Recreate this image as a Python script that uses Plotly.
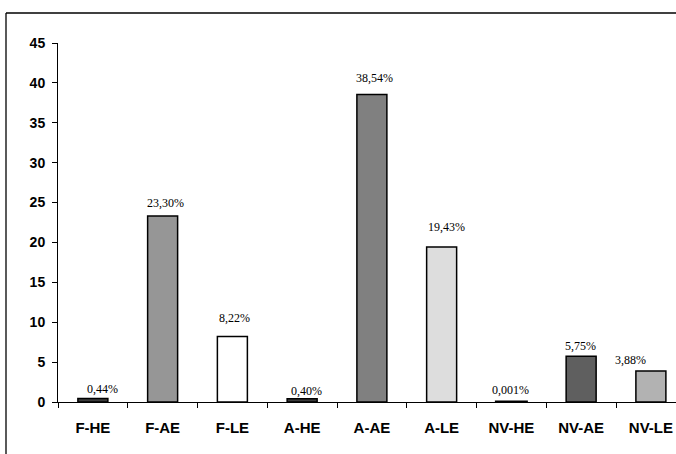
import plotly.graph_objects as go

# Category labels and values (percent)
categories = ["F-HE", "F-AE", "F-LE", "A-HE", "A-AE", "A-LE", "NV-HE", "NV-AE", "NV-LE"]
values = [0.44, 23.30, 8.22, 0.40, 38.54, 19.43, 0.001, 5.75, 3.88]
value_labels = ["0,44%", "23,30%", "8,22%", "0,40%", "38,54%", "19,43%", "0,001%", "5,75%", "3,88%"]
y_ticks = [0, 5, 10, 15, 20, 25, 30, 35, 40, 45]

# Styling per bar
bar_colors = ["#3c3c3c", "#969696", "#ffffff", "#3c3c3c", "#808080",
              "#dddddd", "#1a1a1a", "#5f5f5f", "#b2b2b2"]
bar_outline = [1.5, 1.5, 1.5, 1.5, 1.5, 1.5, 3, 1.5, 1.5]
label_dy = [9, 13, 18, 8, 17, 20, 12, 10, 11]
label_dx = [10, 3, 2, 4, 3, 5, -1, -1, -20]

fig = go.Figure()
fig.add_trace(go.Bar(
    x=categories,
    y=values,
    width=0.43,
    marker=dict(color=bar_colors, line=dict(color="#000000", width=bar_outline)),
    hoverinfo="skip",
))

for cat, val, txt, dy, dx in zip(categories, values, value_labels, label_dy, label_dx):
    fig.add_annotation(
        x=cat, y=val, text=txt, showarrow=False,
        xanchor="center", yanchor="middle",
        yshift=dy, xshift=dx,
        font=dict(family="Liberation Serif, Times New Roman, serif", size=12, color="#000000"),
    )

# Outer chart frame: left and top edges (the rest falls outside the page)
frame_left = -52 / 618
frame_top = 1 + 30 / 359
fig.add_shape(type="line", xref="paper", yref="paper",
              x0=frame_left, x1=frame_left, y0=-0.2, y1=frame_top,
              line=dict(color="#000000", width=1.3))
fig.add_shape(type="line", xref="paper", yref="paper",
              x0=frame_left, x1=1.1, y0=frame_top, y1=frame_top,
              line=dict(color="#000000", width=1.3))

fig.update_layout(
    width=676, height=454,
    margin=dict(l=58, r=0, t=43, b=52, autoexpand=False),
    paper_bgcolor="#ffffff", plot_bgcolor="#ffffff",
    showlegend=False,
    bargap=0.57,
    xaxis=dict(
        type="category",
        range=[-0.5, 8.36],
        showline=True, linecolor="#000000", linewidth=1,
        ticks="outside", ticklen=5, tickcolor="#000000", tickwidth=1,
        tickson="boundaries",
        ticklabelstandoff=12,
        tickfont=dict(family="Liberation Sans, Arial, sans-serif", size=15, color="#000000", weight="bold"),
        showgrid=False, zeroline=False, fixedrange=True,
    ),
    yaxis=dict(
        range=[0, 45],
        tickvals=y_ticks,
        showline=True, linecolor="#000000", linewidth=1,
        ticks="outside", ticklen=5, tickcolor="#000000", tickwidth=1,
        ticklabelstandoff=4,
        tickfont=dict(family="Liberation Sans, Arial, sans-serif", size=14, color="#000000", weight="bold"),
        showgrid=False, zeroline=False, fixedrange=True,
    ),
)

fig.write_html("out.html", config={"displayModeBar": False})
